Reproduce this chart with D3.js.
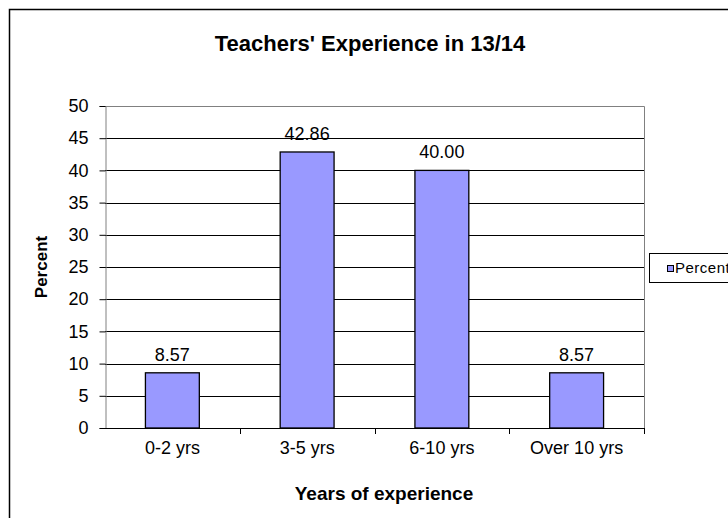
<!DOCTYPE html>
<html>
<head>
<meta charset="utf-8">
<script src="https://cdn.jsdelivr.net/npm/d3@7"></script>
<style>
body { margin: 0; background: #fff; }
text { font-family: "Liberation Sans", Arial, sans-serif; }
</style>
</head>
<body>
<script>
'use strict';
let categories = ["0-2 yrs", "3-5 yrs", "6-10 yrs", "Over 10 yrs"];
let percent = [8.57, 42.86, 40.00, 8.57];
let yTicks = [0, 5, 10, 15, 20, 25, 30, 35, 40, 45, 50];

let width = 728, height = 518;
let plot = {left: 105, top: 106, right: 644, bottom: 428};
let font = "Liberation Sans, Arial, sans-serif";

let svg = d3.select("body").append("svg")
	.attr("width", width)
	.attr("height", height);

// outer chart frame
svg.append("rect")
	.attr("x", 9.5).attr("y", 9.5)
	.attr("width", 740).attr("height", 540)
	.attr("fill", "none")
	.attr("stroke", "#000")
	.attr("stroke-width", 1.5);

let x = d3.scaleBand()
	.domain(categories)
	.range([plot.left, plot.right])
	.paddingInner(0)
	.paddingOuter(0);

let y = d3.scaleLinear()
	.domain([0, 50])
	.range([plot.bottom, plot.top]);

// gridlines
svg.selectAll("line.grid")
	.data(yTicks.slice(1, -1))
	.enter().append("line")
		.attr("class", "grid")
		.attr("x1", plot.left).attr("x2", plot.right)
		.attr("y1", function(d){return Math.round(y(d)) + 0.5;})
		.attr("y2", function(d){return Math.round(y(d)) + 0.5;})
		.attr("stroke", "#000");

// plot border top/right
svg.append("path")
	.attr("d", "M" + plot.left + "," + (plot.top + 0.5) + "H" + (plot.right + 0.5) + "V" + plot.bottom)
	.attr("fill", "none")
	.attr("stroke", "#808080");

// bars
let bw = x.bandwidth() * 0.4;
svg.selectAll("rect.bar")
	.data(percent)
	.enter().append("rect")
		.attr("class", "bar")
		.attr("x", function(d,i){return x(categories[i]) + (x.bandwidth() - bw) / 2;})
		.attr("y", function(d){return y(d);})
		.attr("width", bw)
		.attr("height", function(d){return y(0) - y(d);})
		.attr("fill", "#9999ff")
		.attr("stroke", "#000")
		.attr("stroke-width", 1.3);

// value labels
svg.selectAll("text.val")
	.data(percent)
	.enter().append("text")
		.attr("class", "val")
		.attr("x", function(d,i){return x(categories[i]) + x.bandwidth() / 2;})
		.attr("y", function(d){return y(d) - 12;})
		.attr("text-anchor", "middle")
		.attr("font-size", "18px")
		.text(function(d){return d.toFixed(2);});

// y axis
let yAxis = d3.axisLeft(y).tickValues(yTicks).tickSize(6).tickPadding(11);
let gy = svg.append("g")
	.attr("transform", "translate(" + (plot.left + 0.5) + ",0)")
	.call(yAxis);
gy.select(".domain").attr("stroke", "#808080");
gy.selectAll(".tick line").attr("stroke", "#000");
gy.selectAll("text").attr("font-size", "18px").attr("font-family", font).attr("fill", "#000");

// x axis
let xAxis = d3.axisBottom(x).tickSize(0).tickPadding(13);
let gx = svg.append("g")
	.attr("transform", "translate(0," + (plot.bottom + 0.5) + ")")
	.call(xAxis);
gx.select(".domain").attr("stroke", "#000").attr("d", "M" + plot.left + ",0H" + plot.right);
gx.selectAll("text").attr("font-size", "18px").attr("font-family", font).attr("fill", "#000");

// category separator ticks
svg.selectAll("line.xtick")
	.data(categories)
	.enter().append("line")
		.attr("class", "xtick")
		.attr("x1", function(d){return Math.round(x(d) + x.bandwidth()) + 0.5;})
		.attr("x2", function(d){return Math.round(x(d) + x.bandwidth()) + 0.5;})
		.attr("y1", plot.bottom)
		.attr("y2", plot.bottom + 6)
		.attr("stroke", "#000");

// title
svg.append("text")
	.attr("x", 370).attr("y", 51)
	.attr("text-anchor", "middle")
	.attr("font-size", "22px")
	.attr("font-weight", "bold")
	.text("Teachers' Experience in 13/14");

// axis titles
svg.append("text")
	.attr("transform", "translate(47,267) rotate(-90)")
	.attr("text-anchor", "middle")
	.attr("font-size", "17px")
	.attr("font-weight", "bold")
	.text("Percent");

svg.append("text")
	.attr("x", 384).attr("y", 500)
	.attr("text-anchor", "middle")
	.attr("font-size", "19px")
	.attr("font-weight", "bold")
	.text("Years of experience");

// legend
let lg = svg.append("g").attr("transform", "translate(649,253)");
lg.append("rect")
	.attr("x", 0.5).attr("y", 0.5)
	.attr("width", 100).attr("height", 29)
	.attr("fill", "#fff")
	.attr("stroke", "#000");
lg.append("rect")
	.attr("x", 18.5).attr("y", 12.5)
	.attr("width", 6).attr("height", 6)
	.attr("fill", "#9999ff")
	.attr("stroke", "#000");
lg.append("text")
	.attr("x", 26).attr("y", 20)
	.attr("font-size", "15px")
	.attr("letter-spacing", "0.5px")
	.text("Percent");
</script>
</body>
</html>
